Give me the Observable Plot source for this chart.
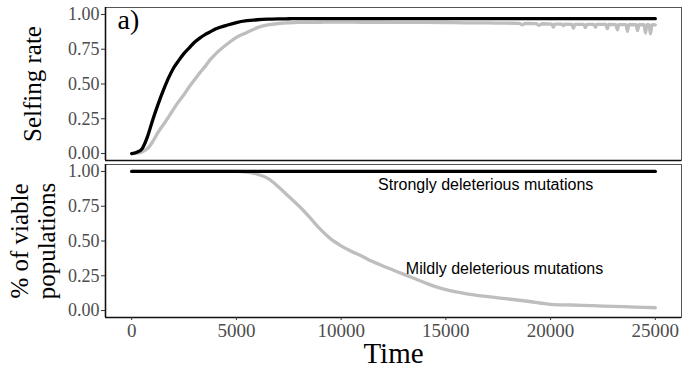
<!DOCTYPE html>
<html>
<head>
<meta charset="utf-8">
<script src="https://cdn.jsdelivr.net/npm/d3@7"></script>
<script src="https://cdn.jsdelivr.net/npm/@observablehq/plot@0.6"></script>
<style>
  html, body { margin: 0; padding: 0; background: #fff; }
</style>
</head>
<body>
<div id="chart"></div>
<script>
// ---- Data ----
const panels = ["top", "bottom"];
const xTicks = [0, 5000, 10000, 15000, 20000, 25000];
const yTicks = [0, 0.25, 0.5, 0.75, 1];

// Selfing rate, strongly deleterious (black)
const timeSelfStrong = [0,250,500,750,1000,1250,1500,1750,2000,2250,2500,2750,3000,3250,3500,3750,4000,4500,5000,5500,6000,6500,7000,7500,8000,10000,15000,20000,25000];
const selfStrong     = [0,0.01,0.035,0.12,0.24,0.35,0.45,0.54,0.615,0.67,0.72,0.76,0.80,0.83,0.855,0.875,0.895,0.92,0.942,0.955,0.962,0.966,0.968,0.969,0.97,0.97,0.97,0.97,0.97];

// Selfing rate, mildly deleterious (grey): smooth rise, then a noisy plateau
const timeSelfMild = [0,250,500,750,1000,1250,1500,1750,2000,2250,2500,2750,3000,3250,3500,3750,4000,4500,5000,5500,6000,6500,7000,7500,8000,9000,10000,11000,12000,13000,14000,15000,16000,17000,
  18000,18500,18650,18800,19300,19450,19600,20060,20130,20200,20540,20610,20680,21020,21090,21160,21590,21660,21730,22070,22140,22210,
  22640,22710,22780,23120,23190,23260,23600,23670,23740,24080,24150,24220,24460,24530,24600,24700,24770,24840,25000];
const selfMild = [0,0.003,0.012,0.035,0.085,0.15,0.205,0.26,0.32,0.375,0.425,0.48,0.53,0.58,0.625,0.675,0.715,0.78,0.835,0.87,0.905,0.925,0.935,0.94,0.943,0.944,0.945,0.944,0.944,0.943,0.943,0.942,0.94,0.94,
  0.937,0.936,0.926,0.935,0.934,0.922,0.933,0.930,0.908,0.930,0.930,0.918,0.930,0.929,0.900,0.929,0.929,0.905,0.929,0.928,0.908,0.928,
  0.928,0.898,0.928,0.927,0.890,0.927,0.927,0.878,0.927,0.926,0.885,0.926,0.926,0.866,0.926,0.926,0.860,0.926,0.925];

// % of viable populations
const timeViableStrong = [0, 25000];
const viableStrong     = [1, 1];
const timeViableMild = [0,5000,5500,6000,6500,7000,7500,8000,8500,9000,9500,10000,10500,11000,11500,12000,12500,13000,13500,14000,14500,15000,16000,17000,18000,19000,20000,21000,22000,23000,24000,25000];
const viableMild     = [1,1,0.995,0.98,0.95,0.89,0.82,0.75,0.67,0.585,0.515,0.465,0.425,0.39,0.352,0.32,0.29,0.26,0.23,0.20,0.172,0.15,0.12,0.10,0.083,0.065,0.045,0.04,0.035,0.03,0.025,0.02];

const yLabels = ["Selfing rate", "% of viable\npopulations"];
const annotations = [
  {panel: "bottom", t: 16900, v: 0.9, label: "Strongly deleterious mutations"},
  {panel: "bottom", t: 17800, v: 0.3, label: "Mildly deleterious mutations"}
];

// ---- Build tables ----
const toRows = (times, vals, panel) => times.map((t, i) => ({t, v: vals[i], panel}));
const greyRows = [
  ...toRows(timeSelfMild, selfMild, "top"),
  ...toRows(timeViableMild, viableMild, "bottom")
];
const blackRows = [
  ...toRows(timeSelfStrong, selfStrong, "top"),
  ...toRows(timeViableStrong, viableStrong, "bottom")
];

const serif = "Liberation Serif";

const chart = Plot.plot({
  width: 683,
  height: 368,
  marginLeft: 105,
  marginRight: 2,
  marginTop: 6,
  marginBottom: 51,
  style: {fontFamily: serif, background: "#fff"},
  x: {domain: [-1250, 26250]},
  y: {domain: [-0.05, 1.05]},
  fy: {domain: panels, axis: null, paddingInner: 0.026, paddingOuter: 0},
  marks: [
    Plot.frame({stroke: "#555", strokeWidth: 1}),
    Plot.ruleX([-1250], {stroke: "#111", strokeWidth: 1.6}),
    Plot.ruleY([-0.05], {stroke: "#111", strokeWidth: 1.6}),
    Plot.axisY({ticks: yTicks, tickFormat: d3.format(".2f"), tickSize: 4, tickPadding: 2, fontSize: 18, stroke: "#333", fill: "#4d4d4d", label: null}),
    Plot.axisX({ticks: xTicks, tickFormat: d => String(d), tickSize: 3, tickPadding: 3, fontSize: 19, stroke: "#333", fill: "#4d4d4d", label: null}),
    Plot.line(greyRows, {x: "t", y: "v", fy: "panel", z: "panel", curve: "monotone-x", stroke: "#bebebe", strokeWidth: 3.3}),
    Plot.line(blackRows, {x: "t", y: "v", fy: "panel", z: "panel", curve: "monotone-x", stroke: "#000", strokeWidth: 3.3}),
    Plot.text(annotations, {x: "t", y: "v", fy: "panel", text: "label", fontFamily: "Liberation Sans", fontSize: 16, fill: "#000"}),
    Plot.text(panels.map((p, i) => ({panel: p, label: yLabels[i]})), {fy: "panel", text: "label", frameAnchor: "left", textAnchor: "middle", lineAnchor: "middle", dx: -73, rotate: -90, fontSize: 25, lineHeight: 1.1, fill: "#000"}),
    Plot.text([{panel: "top", label: "a)"}], {fy: "panel", text: "label", frameAnchor: "top-left", textAnchor: "start", lineAnchor: "top", dx: 12, dy: 2, fontSize: 28, fill: "#000"}),
    Plot.text([{panel: "bottom", label: "Time"}], {fy: "panel", text: "label", frameAnchor: "bottom", textAnchor: "middle", lineAnchor: "middle", dy: 36, fontSize: 29, fill: "#000"})
  ]
});
document.getElementById("chart").appendChild(chart);
</script>
</body>
</html>
